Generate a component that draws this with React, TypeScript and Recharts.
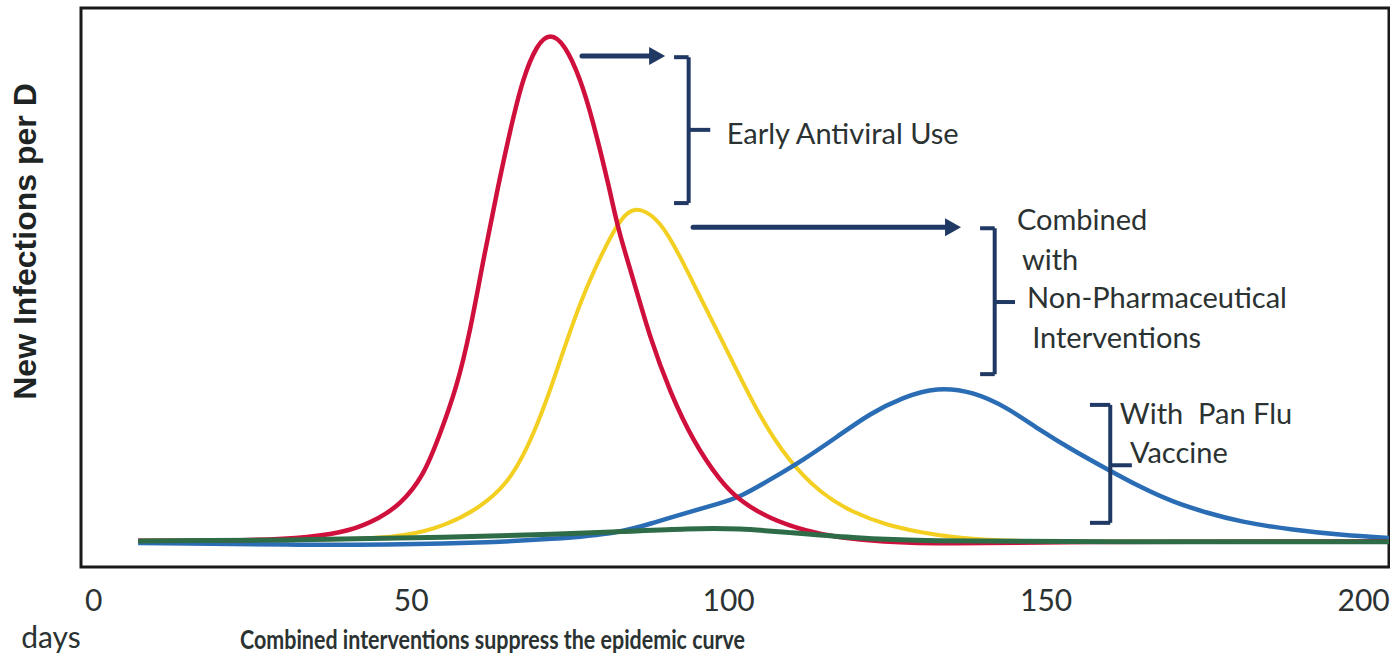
import { LineChart, Line, XAxis, YAxis, ReferenceArea, ReferenceLine, ReferenceDot } from "recharts"

// days on x, relative new infections on y (0..100 of the frame height)
const dayTicks = [0, 50, 100, 150, 200]

const earlyAntiviral = [
  { day: 7, v: 4.7 }, { day: 24.6, v: 4.7 }, { day: 34.1, v: 5.3 }, { day: 40.4, v: 6.4 },
  { day: 45.1, v: 8.8 }, { day: 48.2, v: 11.1 }, { day: 51.9, v: 16.1 }, { day: 54.5, v: 23.6 },
  { day: 57.2, v: 32.2 }, { day: 59.3, v: 42.2 }, { day: 61.3, v: 54.6 }, { day: 63.5, v: 67.1 },
  { day: 65.6, v: 78.2 }, { day: 67.6, v: 87.5 }, { day: 69.8, v: 93.5 }, { day: 71.9, v: 95.6 },
  { day: 74.2, v: 93.5 }, { day: 76.6, v: 87.5 }, { day: 78.6, v: 80.0 }, { day: 81.3, v: 67.4 },
  { day: 82.6, v: 60.3 }, { day: 84.9, v: 51.8 }, { day: 87.6, v: 41.0 }, { day: 90.8, v: 31.2 },
  { day: 94.4, v: 22.5 }, { day: 98.7, v: 15.3 }, { day: 101.8, v: 11.8 }, { day: 106.5, v: 8.6 },
  { day: 112.3, v: 6.4 }, { day: 117.0, v: 5.3 }, { day: 123.8, v: 4.5 }, { day: 134.8, v: 4.1 },
  { day: 150.6, v: 4.5 }, { day: 204, v: 4.6 },
]

const combinedNpi = [
  { day: 7, v: 4.7 }, { day: 40.4, v: 4.8 }, { day: 49.3, v: 5.5 }, { day: 55.6, v: 7.5 },
  { day: 60.8, v: 10.6 }, { day: 65.1, v: 14.8 }, { day: 68.3, v: 21.1 }, { day: 71.4, v: 29.9 },
  { day: 73.9, v: 38.5 }, { day: 76.6, v: 47.2 }, { day: 78.6, v: 52.6 }, { day: 82.1, v: 60.8 },
  { day: 84.1, v: 63.6 }, { day: 86.0, v: 64.3 }, { day: 89.2, v: 62.0 }, { day: 92.4, v: 55.5 },
  { day: 95.5, v: 48.3 }, { day: 98.7, v: 41.1 }, { day: 101.8, v: 34.0 }, { day: 105.0, v: 26.8 },
  { day: 109.2, v: 19.3 }, { day: 114.4, v: 13.2 }, { day: 119.6, v: 9.7 }, { day: 124.9, v: 7.5 },
  { day: 130.1, v: 6.2 }, { day: 135.5, v: 5.3 }, { day: 141.2, v: 4.8 }, { day: 150.6, v: 4.5 },
  { day: 204, v: 4.5 },
]

const panFluVaccine = [
  { day: 7, v: 4.3 }, { day: 32.5, v: 3.9 }, { day: 56.1, v: 4.1 }, { day: 73.4, v: 5.0 },
  { day: 82.9, v: 6.1 }, { day: 88.1, v: 7.9 }, { day: 93.4, v: 9.7 }, { day: 98.6, v: 11.4 },
  { day: 101.8, v: 12.5 }, { day: 106.5, v: 15.6 }, { day: 111.7, v: 19.1 }, { day: 117.1, v: 23.3 },
  { day: 122.3, v: 27.5 }, { day: 127.5, v: 30.4 }, { day: 132.8, v: 32.2 }, { day: 138.5, v: 31.4 },
  { day: 143.8, v: 28.6 }, { day: 149.0, v: 24.5 }, { day: 154.2, v: 20.9 }, { day: 159.6, v: 17.5 },
  { day: 164.8, v: 14.3 }, { day: 170.0, v: 11.6 }, { day: 175.3, v: 9.7 }, { day: 180.5, v: 8.1 },
  { day: 188.9, v: 6.6 }, { day: 196.8, v: 5.7 }, { day: 204, v: 5.2 },
]

const allCombined = [
  { day: 7, v: 4.65 }, { day: 32.5, v: 4.8 }, { day: 56.1, v: 5.3 }, { day: 73.4, v: 5.9 },
  { day: 82.9, v: 6.3 }, { day: 93.9, v: 6.9 }, { day: 101.8, v: 6.9 }, { day: 109.2, v: 6.2 },
  { day: 119.6, v: 5.2 }, { day: 130.1, v: 4.6 }, { day: 158.6, v: 4.5 }, { day: 204, v: 4.5 },
]

const NAVY = "#1f3864"
const TEXT = "#2b3232"
const FONT = "Lato, 'Open Sans', sans-serif"

// annotation geometry, in data units
const arrows = [
  { x1: 76.9, x2: 90.0, y: 91.4 },
  { x1: 94.4, x2: 136.6, y: 60.8 },
]
const brackets = [
  { left: 91.4, spine: 93.7, tip: 97.1, top: 91.2, bottom: 65.1, mid: 78.2 },
  { left: 139.6, spine: 141.9, tip: 145.1, top: 60.6, bottom: 34.5, mid: 47.4 },
  { left: 156.9, spine: 160.1, tip: 163.5, top: 29.0, bottom: 7.9, mid: 18.2 },
]
const notes = [
  { day: 99.7, v: 77.6, text: "Early Antiviral Use" },
  { day: 145.4, v: 62.1, text: "Combined" },
  { day: 146.2, v: 54.9, text: "with" },
  { day: 147.0, v: 48.1, text: "Non-Pharmaceutical" },
  { day: 147.8, v: 41.1, text: "Interventions" },
  { day: 161.6, v: 27.5, text: "With\u00a0 Pan Flu" },
  { day: 163.2, v: 20.4, text: "Vaccine" },
]

const Arrow = (p: any) => {
  const { x1, y1, x2 } = p
  return (
    <g>
      <line x1={x1} y1={y1} x2={x2 - 12} y2={y1} stroke={NAVY} strokeWidth={5} strokeLinecap="round" />
      <path d={`M${x2 - 16},${y1 - 9} L${x2},${y1} L${x2 - 16},${y1 + 9} Z`} fill={NAVY} />
    </g>
  )
}

function bracketLines(b: (typeof brackets)[number], i: number) {
  const s = { stroke: NAVY, strokeWidth: 4, ifOverflow: "visible" as const }
  return [
    <ReferenceLine key={`bt${i}`} segment={[{ x: b.left, y: b.top }, { x: b.spine, y: b.top }]} {...s} />,
    <ReferenceLine key={`bs${i}`} segment={[{ x: b.spine, y: b.top }, { x: b.spine, y: b.bottom }]} {...s} />,
    <ReferenceLine key={`bb${i}`} segment={[{ x: b.left, y: b.bottom }, { x: b.spine, y: b.bottom }]} {...s} />,
    <ReferenceLine key={`bm${i}`} segment={[{ x: b.spine, y: b.mid }, { x: b.tip, y: b.mid }]} {...s} />,
  ]
}

const YTitle = (props: any) => {
  const vb = props.viewBox
  const x = vb.x + 25
  const y = vb.y + vb.height / 2 - 46
  return (
    <text x={x} y={y} transform={`rotate(-90, ${x}, ${y})`} textAnchor="middle" dominantBaseline="central"
      fontFamily="'Liberation Sans', Arial, sans-serif" fontWeight="bold" fontSize={32} fill="#1e2424">
      New Infections per D
    </text>
  )
}

const XTitle = (props: any) => {
  const vb = props.viewBox
  return (
    <g fontFamily={FONT} fill={TEXT}>
      <text x={vb.x - 30} y={vb.y + 81} textAnchor="middle" fontSize={30}>days</text>
      <text x={vb.x + 159} y={vb.y + 82} fontSize={27} fontWeight="bold" textLength={505} lengthAdjust="spacingAndGlyphs">
        Combined interventions suppress the epidemic curve
      </text>
    </g>
  )
}

export default function App() {
  return (
    <div style={{ position: "absolute", left: 0, top: 0, width: 1390, height: 655, background: "#fff" }}>
      <LineChart width={1390} height={655} margin={{ top: 8, right: 1, bottom: 0, left: 0 }}>
        <XAxis dataKey="day" type="number" domain={[-2, 204]} ticks={dayTicks} allowDataOverflow
          axisLine={false} tickLine={false} height={88} tickMargin={17}
          tick={{ fontSize: 30, fontFamily: FONT, fill: TEXT }} label={{ content: XTitle }} />
        <YAxis type="number" domain={[0, 100]} allowDataOverflow tick={false} axisLine={false} tickLine={false}
          width={81} label={{ content: YTitle }} />
        <ReferenceArea x1={-2} x2={204} y1={0} y2={100} fill="none" stroke="#1a1a1a" strokeWidth={3} ifOverflow="visible" />

        <Line data={combinedNpi} dataKey="v" type="basis" stroke="#f3cf22" strokeWidth={4} dot={false} isAnimationActive={false} />
        <Line data={panFluVaccine} dataKey="v" type="basis" stroke="#2a6db5" strokeWidth={4.5} dot={false} isAnimationActive={false} />
        <Line data={earlyAntiviral} dataKey="v" type="basis" stroke="#d0103c" strokeWidth={4.5} dot={false} isAnimationActive={false} />
        <Line data={allCombined} dataKey="v" type="basis" stroke="#2e6b47" strokeWidth={5} dot={false} isAnimationActive={false} />

        {arrows.map((a, i) => (
          <ReferenceLine key={`a${i}`} segment={[{ x: a.x1, y: a.y }, { x: a.x2, y: a.y }]} shape={Arrow} ifOverflow="visible" />
        ))}
        {brackets.flatMap((b, i) => bracketLines(b, i))}
        {notes.map((n, i) => (
          <ReferenceDot key={`n${i}`} x={n.day} y={n.v} r={0} stroke="none" fill="none" ifOverflow="visible"
            label={{ value: n.text, position: "right", offset: 0, fill: TEXT, fontSize: 29, fontFamily: FONT }} />
        ))}
      </LineChart>
    </div>
  )
}
